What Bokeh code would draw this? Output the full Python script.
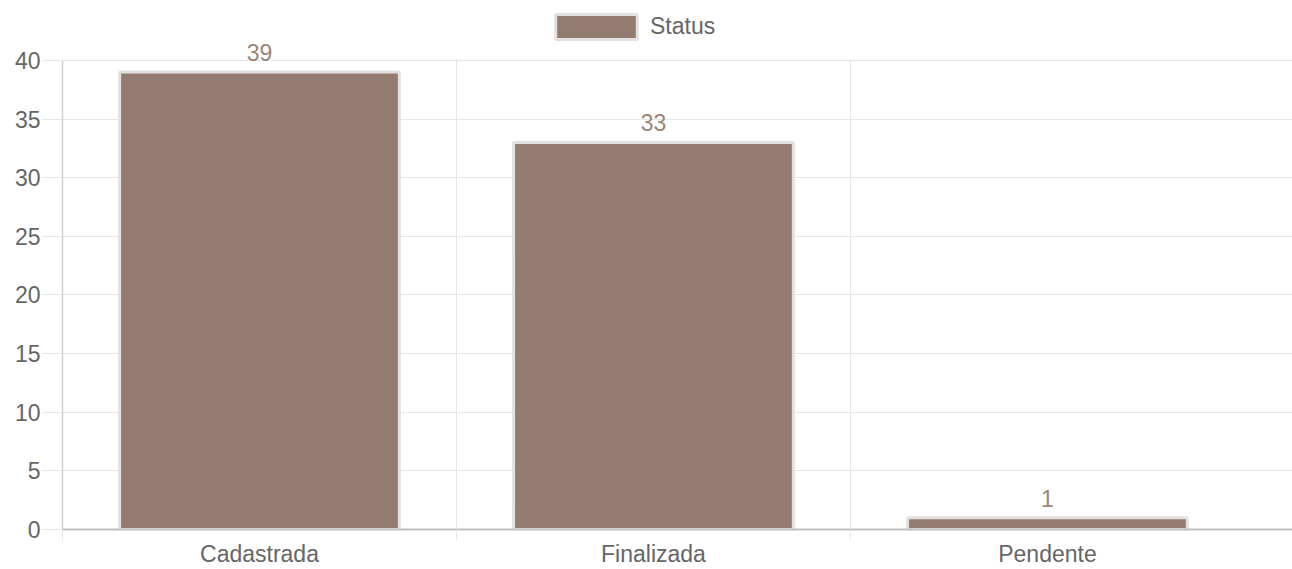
from bokeh.plotting import figure
from bokeh.models import (Range1d, FixedTicker, ColumnDataSource,
                          Legend, LegendItem, LabelSet, BoxAnnotation)
from bokeh.core.properties import value
from bokeh.embed import file_html
from bokeh.resources import INLINE

categories = ["Cadastrada", "Finalizada", "Pendente"]
counts = [39, 33, 1]
series_name = "Status"
y_ticks = [0, 5, 10, 15, 20, 25, 30, 35, 40]

FONT = "Liberation Sans"
FS = "23px"
TEXT_GREY = "#666666"
GRID = "#e6e6e6"
BAR_FILL = "#937b6f"
BAR_LINE = "#e4e0e0"
LABEL_COLOR = "#9c8578"

Y_MAX = y_ticks[-1]
centers = [i + 0.5 for i in range(len(categories))]
boundaries = [float(i) for i in range(len(categories))]
src = ColumnDataSource(dict(x=centers, top=counts, label=[str(c) for c in counts], cat=categories))

p = figure(width=1292, height=569, output_backend="svg", toolbar_location=None,
           x_range=Range1d(0, 3.122), y_range=Range1d(0, 45.106),
           min_border_left=62, min_border_right=0, min_border_top=0, min_border_bottom=39)
p.outline_line_color = None
p.background_fill_color = "white"
p.border_fill_color = "white"

bars = p.vbar(x="x", top="top", bottom=0, width=0.71, source=src,
              fill_color=BAR_FILL, line_color=BAR_LINE, line_width=3)

# white area above the top of the value scale (keeps the vertical grid inside 0..40)
mask = BoxAnnotation(bottom=Y_MAX + 0.1, fill_color="white", fill_alpha=1, line_color=None,
                     level="underlay")
p.add_layout(mask)

labels = LabelSet(x="x", y="top", text="label", source=src, text_align="center",
                  text_baseline="alphabetic", y_offset=11, text_color=LABEL_COLOR,
                  text_font=value(FONT), text_font_size=value(FS))
p.add_layout(labels)

# y axis
p.yaxis.ticker = FixedTicker(ticks=y_ticks)
p.yaxis.bounds = (0, Y_MAX)
p.yaxis.axis_line_color = "#cfcfcf"
p.yaxis.axis_line_width = 1.5
p.yaxis.major_tick_line_color = GRID
p.yaxis.major_tick_out = 20
p.yaxis.major_tick_in = 0
p.yaxis.minor_tick_line_color = None
p.yaxis.major_label_standoff = 2
p.yaxis.major_label_text_font = FONT
p.yaxis.major_label_text_font_size = FS
p.yaxis.major_label_text_color = TEXT_GREY

# x axis
p.xaxis.ticker = FixedTicker(ticks=centers, minor_ticks=boundaries)
p.xaxis.major_label_overrides = {c: n for c, n in zip(centers, categories)}
p.xaxis.axis_line_color = "#bfbfbf"
p.xaxis.axis_line_width = 2
p.xaxis.major_tick_line_color = None
p.xaxis.major_tick_out = 6
p.xaxis.major_tick_in = 0
p.xaxis.minor_tick_line_color = GRID
p.xaxis.minor_tick_out = 11
p.xaxis.minor_tick_in = 0
p.xaxis.major_label_standoff = 0
p.xaxis.major_label_text_font = FONT
p.xaxis.major_label_text_font_size = FS
p.xaxis.major_label_text_color = TEXT_GREY

p.ygrid.grid_line_color = GRID
p.xgrid.ticker = FixedTicker(ticks=boundaries[1:])
p.xgrid.grid_line_color = GRID

legend = Legend(items=[LegendItem(label=series_name, renderers=[bars])],
                location=(483, 487), orientation="horizontal",
                glyph_width=102, glyph_height=31, label_standoff=3,
                label_text_font=FONT, label_text_font_size=FS, label_text_color=TEXT_GREY,
                border_line_color=None, background_fill_alpha=0,
                padding=0, margin=0)
p.add_layout(legend)

open("out.html", "w").write(file_html(p, INLINE))
